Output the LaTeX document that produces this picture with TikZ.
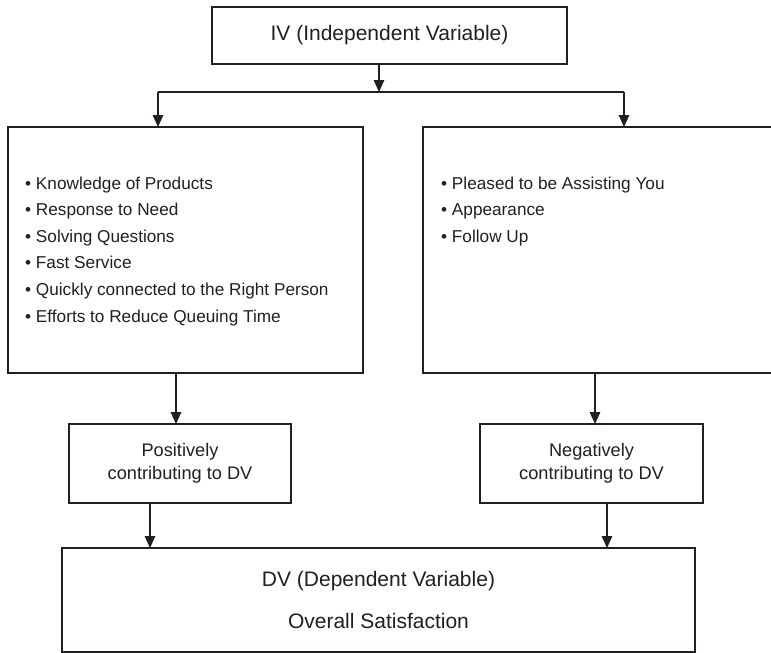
\documentclass[tikz,border=0pt]{standalone}
\usepackage{fontspec}
\setmainfont{Liberation Sans}
\usetikzlibrary{arrows.meta}
\definecolor{ink}{RGB}{35,31,32}
\begin{document}
\begin{tikzpicture}[x=1pt,y=-1pt,
  box/.style={draw=ink,line width=1.4pt,inner sep=0pt,outer sep=0pt,text=ink,align=center},
  arr/.style={draw=ink,line width=1.4pt,-{Triangle[length=12pt,width=10.5pt]}},
  conn/.style={draw=ink,line width=1.4pt},
  item/.style={anchor=base west,inner sep=0pt,text=ink,font=\fontsize{17.2}{20}\selectfont}]
\useasboundingbox (0,0) rectangle (771,653);
\fill[white] (0,0) rectangle (771,653);

\node[box,minimum width=355pt,minimum height=57pt,font=\fontsize{21}{25}\selectfont] (iv) at (389.5,35.5) {IV (Independent Variable)};
\node[box,minimum width=355pt,minimum height=246pt] (left) at (185.5,250) {};
\node[box,minimum width=357pt,minimum height=246pt] (right) at (601.5,250) {};
\node[box,minimum width=222pt,minimum height=79pt,font=\fontsize{18.2}{23}\selectfont] (pos) at (180,463.5) {Positively\\contributing to DV};
\node[box,minimum width=223pt,minimum height=79pt,font=\fontsize{18.2}{23}\selectfont] (neg) at (591.5,463.5) {Negatively\\contributing to DV};
\node[box,minimum width=633pt,minimum height=104pt,font=\fontsize{21}{42}\selectfont] (dv) at (378.5,600) {DV (Dependent Variable)\\Overall Satisfaction};

\node[item] (l1) at (25,189) {• Knowledge of Products};
\node[item] (l2) at (25,215.6) {• Response to Need};
\node[item] (l3) at (25,242.2) {• Solving Questions};
\node[item] (l4) at (25,268.8) {• Fast Service};
\node[item] (l5) at (25,295.4) {• Quickly connected to the Right Person};
\node[item] (l6) at (25,322) {• Efforts to Reduce Queuing Time};

\node[item] (r1) at (441,189) {• Pleased to be Assisting You};
\node[item] (r2) at (441,215.6) {• Appearance};
\node[item] (r3) at (441,242.2) {• Follow Up};

\coordinate (top) at ([xshift=-10.5pt]iv.south);
\coordinate (j) at (379,92);
\coordinate (jl) at (158,92);
\coordinate (jr) at (624,92);
\draw[arr] (top) -- (j);
\draw[conn] (jl) -- (jr);
\draw[arr] (jl) -- (jl |- left.north);
\draw[arr] (jr) -- (jr |- right.north);

\coordinate (a1) at ([xshift=-9.5pt]left.south);
\coordinate (a2) at ([xshift=-6.5pt]right.south);
\draw[arr] (a1) -- (a1 |- pos.north);
\draw[arr] (a2) -- (a2 |- neg.north);

\coordinate (b1) at ([xshift=-30pt]pos.south);
\coordinate (b2) at ([xshift=15.5pt]neg.south);
\draw[arr] (b1) -- (b1 |- dv.north);
\draw[arr] (b2) -- (b2 |- dv.north);
\end{tikzpicture}
\end{document}
